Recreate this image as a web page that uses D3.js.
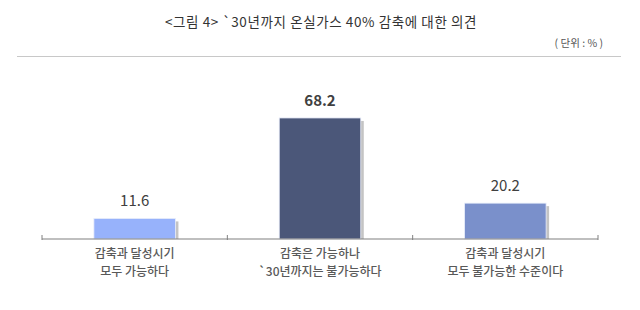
<!DOCTYPE html>
<html>
<head>
  <meta charset="utf-8">
  <script src="https://d3js.org/d3.v7.min.js"></script>
  <style>
    body { margin: 0; background: #fff; }
    svg { font-family: "Noto Sans CJK KR", sans-serif; }
  </style>
</head>
<body>
<script>
  // values from the figure
  const categories = [
    ["감축과 달성시기", "모두 가능하다"],
    ["감축은 가능하나", "`30년까지는 불가능하다"],
    ["감축과 달성시기", "모두 불가능한 수준이다"]
  ];
  const values = [11.6, 68.2, 20.2];
  const colors = ["#97b2fb", "#4b5779", "#7a90cb"];
  const titleText = "<그림 4> `30년까지 온실가스 40% 감축에 대한 의견";
  const unitText = "( 단위 : % )";

  const width = 640, height = 310;
  const margin = {left: 42, right: 42, top: 97, bottom: 71};

  const svg = d3.select("body").append("svg")
    .attr("width", width)
    .attr("height", height);

  svg.append("text")
    .attr("x", 321).attr("y", 27)
    .attr("text-anchor", "middle")
    .attr("fill", "#333")
    .style("font-size", "13.5px")
    .style("letter-spacing", "0.6px")
    .text(titleText);

  svg.append("text")
    .attr("x", 603).attr("y", 47)
    .attr("text-anchor", "end")
    .attr("fill", "#555")
    .style("font-size", "10.5px")
    .text(unitText);

  svg.append("line")
    .attr("x1", 17).attr("x2", 621)
    .attr("y1", 56.5).attr("y2", 56.5)
    .attr("stroke", "#c8c8c8");

  var x = d3.scaleBand()
    .domain(d3.range(categories.length))
    .range([margin.left, width - margin.right])
    .paddingInner(0.56)
    .paddingOuter(0.28);

  var band = d3.scaleBand()
    .domain(d3.range(categories.length))
    .range([margin.left, width - margin.right]);

  var y = d3.scaleLinear()
    .domain([0, 80])
    .range([height - margin.bottom, margin.top]);

  const base = y(0);

  // shadows
  svg.append("g")
    .selectAll("rect")
    .data(values)
    .join("rect")
      .attr("x", (d, i) => x(i) + 3)
      .attr("y", d => y(d) + 3)
      .attr("width", x.bandwidth())
      .attr("height", d => base - y(d) - 3)
      .attr("fill", "#c4c4c4");

  svg.append("g")
    .selectAll("rect")
    .data(values)
    .join("rect")
      .attr("x", (d, i) => x(i))
      .attr("y", d => y(d))
      .attr("width", x.bandwidth())
      .attr("height", d => base - y(d))
      .attr("fill", (d, i) => colors[i])
      .attr("stroke", "#e9eefb")
      .attr("stroke-width", 0.8);

  // axis
  const axis = svg.append("g")
    .attr("transform", `translate(0,${base})`);
  axis.append("line")
    .attr("x1", margin.left).attr("x2", width - margin.right)
    .attr("stroke", "#808080").attr("stroke-width", 1.2);
  axis.selectAll(".tk")
    .data(d3.range(categories.length + 1))
    .join("line")
      .attr("class", "tk")
      .attr("x1", i => i < categories.length ? band(i) : band(i - 1) + band.bandwidth())
      .attr("x2", i => i < categories.length ? band(i) : band(i - 1) + band.bandwidth())
      .attr("y1", -4).attr("y2", 1)
      .attr("stroke", "#808080");

  svg.append("g")
    .selectAll("text")
    .data(values)
    .join("text")
      .attr("x", (d, i) => x(i) + x.bandwidth() / 2)
      .attr("y", d => y(d) - 12)
      .attr("text-anchor", "middle")
      .attr("fill", "#404040")
      .style("font-size", "15px")
      .style("font-weight", (d, i) => i == 1 ? "700" : "400")
      .text(d => d.toFixed(1));

  // category labels, one text per line
  const lines = [];
  categories.forEach((c, i) => c.forEach((t, j) => lines.push({i, j, t})));

  svg.append("g")
    .selectAll("text")
    .data(lines)
    .join("text")
      .attr("x", d => x(d.i) + x.bandwidth() / 2)
      .attr("y", d => base + 19 + d.j * 17.5)
      .attr("text-anchor", "middle")
      .attr("fill", "#595959")
      .style("font-size", "12px")
      .style("font-weight", "500")
      .text(d => d.t);
</script>
</body>
</html>
